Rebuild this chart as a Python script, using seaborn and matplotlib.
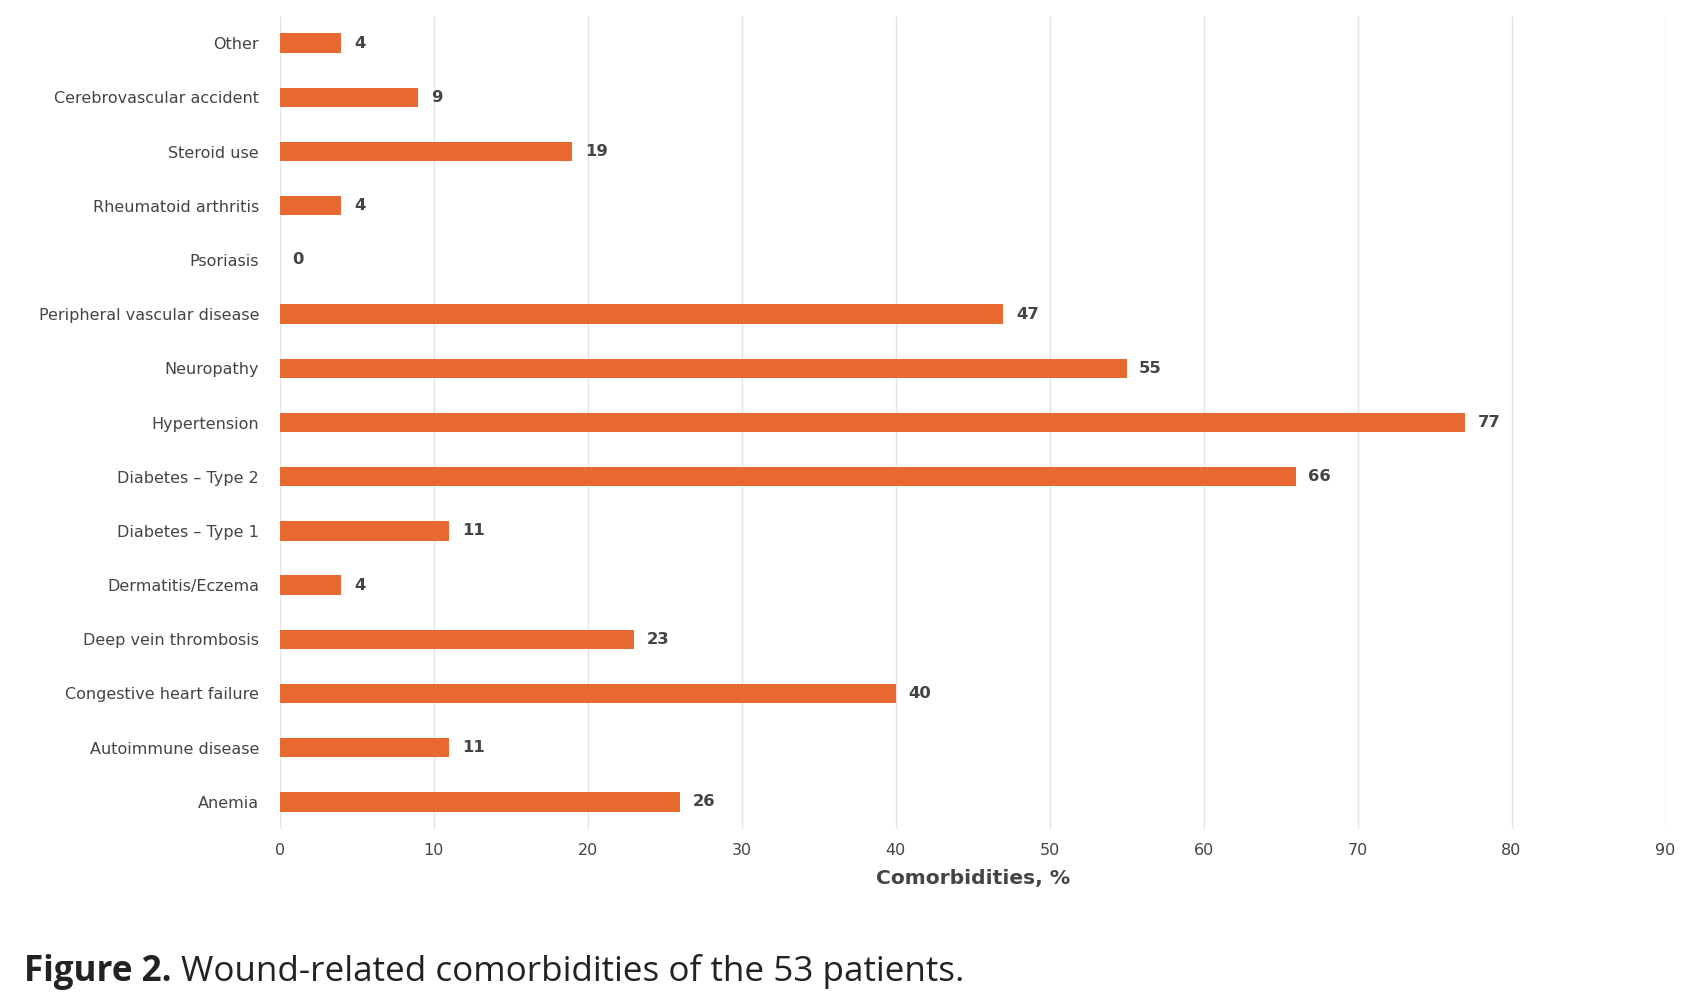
import seaborn as sns
import matplotlib.pyplot as plt
import pandas as pd

# comorbidities, top to bottom as in the figure
labels = ["Other", "Cerebrovascular accident", "Steroid use", "Rheumatoid arthritis",
          "Psoriasis", "Peripheral vascular disease", "Neuropathy", "Hypertension",
          "Diabetes \u2013 Type 2", "Diabetes \u2013 Type 1", "Dermatitis/Eczema",
          "Deep vein thrombosis", "Congestive heart failure", "Autoimmune disease", "Anemia"]
pct = [4, 9, 19, 4, 0, 47, 55, 77, 66, 11, 4, 23, 40, 11, 26]
xticks = [0, 10, 20, 30, 40, 50, 60, 70, 80, 90]

df = pd.DataFrame({"cond": labels, "pct": pct})

sns.set_theme(style="white")
plt.rcParams['font.family'] = ['DejaVu Sans']

fig = plt.figure(figsize=(16.96, 10), dpi=100)
ax = fig.add_axes([0.165, 0.171, 0.817, 0.813])

sns.barplot(data=df, x="pct", y="cond", color="#E8692F", saturation=1,
            width=0.36, linewidth=0, ax=ax, zorder=3)

ax.set_xlim(0, 90)
ax.set_xticks(xticks)
ax.grid(axis="x", color="#e4e4e4", linewidth=1.0, zorder=0)
ax.set_axisbelow(True)
sns.despine(ax=ax, left=True, bottom=True)
ax.tick_params(axis="both", length=0, labelcolor="#444444")
ax.tick_params(axis="y", pad=15, labelsize=11.5)
ax.tick_params(axis="x", pad=10, labelsize=11.5)
ax.set_ylabel("")
ax.set_xlabel("Comorbidities, %", fontsize=14.6, fontweight="bold", color="#444444", labelpad=8)

for c in ax.containers:
    ax.bar_label(c, padding=9, fontsize=11.8, fontweight="bold", color="#444444")

# caption, bold lead + regular text
cap_font = ['Open Sans', 'DejaVu Sans']
t1 = fig.text(0.014, 0.019, "Figure 2.", fontsize=25.2, fontweight="bold",
              family=cap_font, color="#222222", va="baseline")
fig.canvas.draw()
bb = t1.get_window_extent()
x2 = (bb.x1 + 10) / fig.bbox.width
fig.text(x2, 0.019, "Wound-related comorbidities of the 53 patients.", fontsize=25.2,
         family=cap_font, color="#222222", va="baseline")

plt.savefig("out.png", dpi=100)
